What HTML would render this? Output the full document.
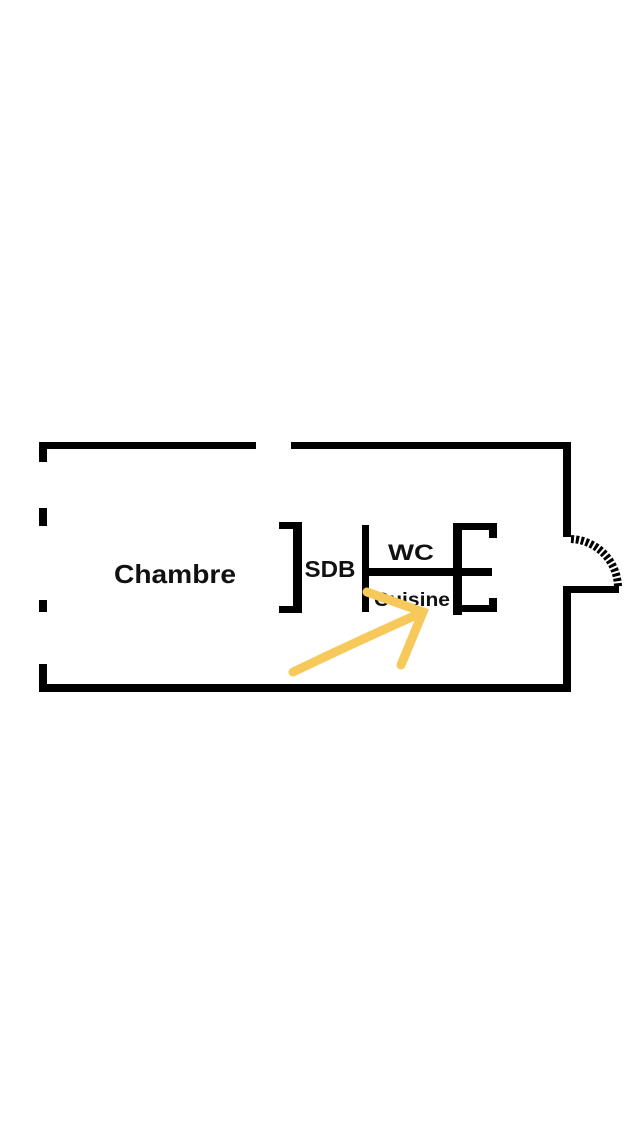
<!DOCTYPE html>
<html><head><style>body{margin:0;background:#fff}svg{display:block}</style></head><body>
<svg width="640" height="1136" xmlns="http://www.w3.org/2000/svg">
<g fill="#000">
<rect x="39" y="442" width="217" height="7"/>
<rect x="291" y="442" width="280" height="7"/>
<rect x="39" y="442" width="8" height="20"/>
<rect x="39" y="508" width="8" height="18"/>
<rect x="39" y="600" width="8" height="12"/>
<rect x="39" y="664" width="8" height="28"/>
<rect x="39" y="684" width="532" height="8"/>
<rect x="563" y="442" width="8" height="95"/>
<rect x="563" y="586" width="8" height="106"/>
<rect x="563" y="586" width="56" height="7"/>
<rect x="279" y="522" width="23" height="7"/>
<rect x="279" y="606" width="23" height="7"/>
<rect x="293" y="522" width="9" height="91"/>
<rect x="362" y="525" width="7" height="87"/>
<rect x="362" y="568" width="130" height="8"/>
<rect x="453" y="523" width="9" height="92"/>
<rect x="453" y="523" width="44" height="7"/>
<rect x="453" y="605" width="44" height="7"/>
<rect x="489" y="523" width="8" height="15"/>
<rect x="489" y="598" width="8" height="14"/>
</g>
<path d="M571 539 A49 49 0 0 1 618 588" fill="none" stroke="#000" stroke-width="8" stroke-dasharray="3 2"/>
<g font-family="Liberation Sans, sans-serif" font-weight="bold" fill="#111" text-anchor="middle">
<text x="175" y="583" font-size="26" textLength="122" lengthAdjust="spacingAndGlyphs">Chambre</text>
<text x="330" y="577" font-size="23" textLength="51" lengthAdjust="spacingAndGlyphs">SDB</text>
<text x="411" y="560" font-size="22" textLength="46" lengthAdjust="spacingAndGlyphs">WC</text>
<text x="412" y="606" font-size="19" textLength="76" lengthAdjust="spacingAndGlyphs">Cuisine</text>
</g>
<g stroke="#F7C95A" stroke-width="9" stroke-linecap="round" fill="none">
<path d="M293 672 Q360 640 423 612"/>
<path d="M367 592 L423 612 L401 665"/>
</g>
</svg>
</body></html>
